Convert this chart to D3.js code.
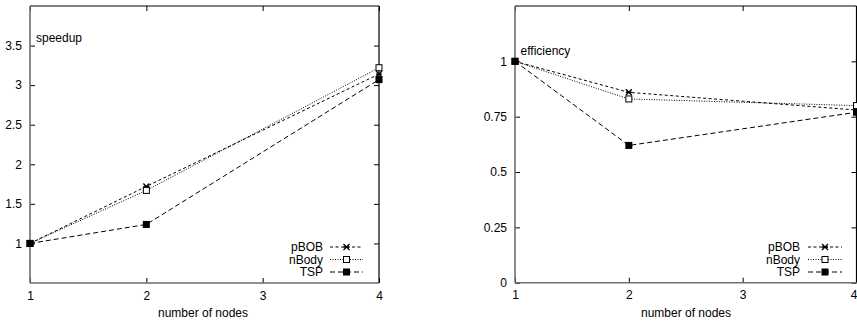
<!DOCTYPE html>
<html><head><meta charset="utf-8">
<script src="https://cdn.jsdelivr.net/npm/d3@7"></script>
<style>
body{margin:0;background:#fff;}
svg{display:block;font-family:"Liberation Sans",Arial,Helvetica,sans-serif;}
</style></head>
<body>
<svg id="c" width="857" height="322"></svg>
<script>
const nodes = [1, 2, 4];
const seriesNames = ["pBOB", "nBody", "TSP"];
const speedupPBOB = [1, 1.72, 3.14];
const speedupNBody = [1, 1.67, 3.22];
const speedupTSP = [1, 1.24, 3.07];
const efficiencyPBOB = [1, 0.86, 0.78];
const efficiencyNBody = [1, 0.83, 0.80];
const efficiencyTSP = [1, 0.62, 0.77];
const xTicks = [1, 2, 3, 4];
const speedupTicks = [1, 1.5, 2, 2.5, 3, 3.5];
const efficiencyTicks = [0, 0.25, 0.5, 0.75, 1];

const styles = {
  pBOB: {dash: "3,2.5", marker: "star"},
  nBody: {dash: "1,1.5", marker: "open"},
  TSP: {dash: "5,3", marker: "filled"}
};

const svg = d3.select("#c");

function drawMarker(g, type, cx, cy) {
  if (type === "filled") {
    g.append("rect").attr("x", cx - 3.5).attr("y", cy - 3.5).attr("width", 7).attr("height", 7).attr("fill", "#000");
  } else if (type === "open") {
    g.append("rect").attr("x", cx - 3).attr("y", cy - 3).attr("width", 6).attr("height", 6).attr("fill", "#fff").attr("stroke", "#000").attr("stroke-width", 1);
  } else {
    const s = 3;
    g.append("path").attr("d", `M${cx-s},${cy-s}L${cx+s},${cy+s}M${cx-s},${cy+s}L${cx+s},${cy-s}M${cx-s},${cy}L${cx+s},${cy}`)
      .attr("stroke", "#000").attr("stroke-width", 1.3);
  }
}

function panel(opts) {
  const {x0, x1, yTop, yBot, yDomain, yTicks, data, title, titlePos, legendX, lineX0, lineX1, xLabelX} = opts;
  const g = svg.append("g");
  const x = d3.scaleLinear().domain([1, 4]).range([x0, x1]);
  const y = d3.scaleLinear().domain(yDomain).range([yBot, yTop]);

  const axL = g.append("g").attr("transform", `translate(${x0},0)`)
    .call(d3.axisLeft(y).tickValues(yTicks).tickSize(-5).tickPadding(8).tickFormat(d => String(d)));
  const axR = g.append("g").attr("transform", `translate(${x1},0)`)
    .call(d3.axisRight(y).tickValues(yTicks).tickSize(-5).tickFormat(""));
  const axB = g.append("g").attr("transform", `translate(0,${yBot})`)
    .call(d3.axisBottom(x).tickValues(xTicks).tickSize(-5).tickPadding(8).tickFormat(d => String(d)));
  const axT = g.append("g").attr("transform", `translate(0,${yTop})`)
    .call(d3.axisTop(x).tickValues(xTicks).tickSize(-5).tickFormat(""));
  [axL, axR, axB, axT].forEach(a => {
    a.select(".domain").remove();
    a.selectAll(".tick line").attr("stroke", "#000").attr("stroke-width", 1);
    a.selectAll("text").attr("font-size", 12).attr("fill", "#000").attr("font-family", "'Liberation Sans',Arial,sans-serif");
  });
  axB.selectAll("text").attr("dy", "0.71em");
  // keep the last x label inside the page
  axB.selectAll(".tick text").filter(d => x(d) > 850).attr("text-anchor", "end").attr("x", 857 - x1);

  g.append("line").attr("x1", x0).attr("x2", x1).attr("y1", yTop).attr("y2", yTop).attr("stroke", "#000").attr("stroke-width", 1.2);
  g.append("line").attr("x1", x1).attr("x2", x1).attr("y1", yTop).attr("y2", yBot).attr("stroke", "#000").attr("stroke-width", 1.2);
  g.append("line").attr("x1", x0).attr("x2", x0).attr("y1", yTop).attr("y2", yBot).attr("stroke", "#6e6e6e").attr("stroke-width", 1.6);
  g.append("line").attr("x1", x0).attr("x2", x1).attr("y1", yBot).attr("y2", yBot).attr("stroke", "#6e6e6e").attr("stroke-width", 1.6);

  const line = d3.line().x((d, i) => x(nodes[i])).y(d => y(d));
  seriesNames.forEach((name, k) => {
    g.append("path").attr("d", line(data[k])).attr("fill", "none").attr("stroke", "#000")
      .attr("stroke-width", 1).attr("stroke-dasharray", styles[name].dash);
  });
  seriesNames.forEach((name, k) => {
    data[k].forEach((v, i) => drawMarker(g, styles[name].marker, x(nodes[i]), y(v)));
  });

  g.append("text").attr("x", titlePos[0]).attr("y", titlePos[1]).attr("font-size", 12).text(title);

  const rows = [247, 259.5, 272];
  seriesNames.forEach((name, k) => {
    g.append("text").attr("x", legendX).attr("y", rows[k]).attr("dy", "0.35em").attr("text-anchor", "end")
      .attr("font-size", 12).text(name);
    g.append("line").attr("x1", lineX0).attr("x2", lineX1).attr("y1", rows[k]).attr("y2", rows[k])
      .attr("stroke", "#000").attr("stroke-width", 1).attr("stroke-dasharray", styles[name].dash);
    drawMarker(g, styles[name].marker, (lineX0 + lineX1) / 2, rows[k]);
  });

  g.append("text").attr("x", xLabelX).attr("y", 317).attr("text-anchor", "middle").attr("font-size", 12).text("number of nodes");
}

panel({x0: 30, x1: 379, yTop: 6, yBot: 283, yDomain: [0.5, 4], yTicks: speedupTicks,
  data: [speedupPBOB, speedupNBody, speedupTSP], title: "speedup", titlePos: [36, 42],
  legendX: 323, lineX0: 330, lineX1: 363, xLabelX: 203});
panel({x0: 515, x1: 856.5, yTop: 6, yBot: 282.7, yDomain: [0, 1.25], yTicks: efficiencyTicks,
  data: [efficiencyPBOB, efficiencyNBody, efficiencyTSP], title: "efficiency", titlePos: [520.5, 55],
  legendX: 800, lineX0: 808, lineX1: 842, xLabelX: 686});
</script>
</body></html>
